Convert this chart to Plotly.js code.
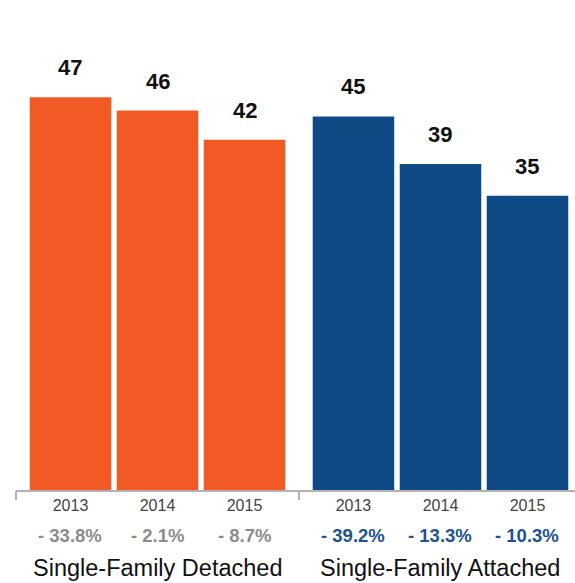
<!DOCTYPE html>
<html>
<head>
<meta charset="utf-8">
<script src="https://cdn.plot.ly/plotly-3.0.1.min.js"></script>
<style>html,body{margin:0;padding:0;background:#fff;}#chart{width:575px;height:583px;}</style>
</head>
<body>
<div id="chart"></div>
<script>
// ---- data ----
var years = ['2013', '2014', '2015'];
var groups = ['Single-Family Detached', 'Single-Family Attached'];
var detachedValues = [47.0, 45.4, 41.9];
var detachedLabels = ['47', '46', '42'];
var detachedChange = ['- 33.8%', '- 2.1%', '- 8.7%'];
var attachedValues = [44.7, 39.0, 35.2];
var attachedLabels = ['45', '39', '35'];
var attachedChange = ['- 39.2%', '- 13.3%', '- 10.3%'];

var ORANGE = '#f15a24', BLUE = '#0f4a87';
var FONT = 'Liberation Sans, Arial, Helvetica, sans-serif';
var AXIS = '#b3b3b3';

var traces = [
  {type:'bar', x:years, y:detachedValues, xaxis:'x', yaxis:'y', width:0.937,
   marker:{color:ORANGE, line:{width:0}}, hoverinfo:'none', showlegend:false},
  {type:'bar', x:years, y:attachedValues, xaxis:'x2', yaxis:'y', width:0.937,
   marker:{color:BLUE, line:{width:0}}, hoverinfo:'none', showlegend:false}
];

var annotations = [];
function addGroup(xref, vals, labels, changes, changeColor, title) {
  // category axes: annotation positions use category index
  for (var i = 0; i < years.length; i++) {
    annotations.push({xref:xref, yref:'y', x:i, y:vals[i], text:'<b>'+labels[i]+'</b>',
      showarrow:false, yanchor:'bottom', yshift:15, font:{family:FONT, size:22, color:'#111'}});
    annotations.push({xref:xref, yref:'paper', x:i, y:0, text:'<b>'+changes[i]+'</b>',
      showarrow:false, yanchor:'middle', yshift:-45, font:{family:FONT, size:18.5, color:changeColor}});
  }
  annotations.push({xref:xref, yref:'paper', x:1, y:0, text:title,
    showarrow:false, yanchor:'middle', yshift:-78, font:{family:FONT, size:23.5, color:'#111'}});
}
addGroup('x', detachedValues, detachedLabels, detachedChange, '#8c8c8c', groups[0]);
addGroup('x2', attachedValues, attachedLabels, attachedChange, '#1d5293', groups[1]);

var tickShape = function(xref) {
  return {type:'line', xref:xref, x0:0, x1:0, yref:'paper', ysizemode:'pixel', yanchor:0,
    y0:-1, y1:-10, line:{color:AXIS, width:2}};
};

var xCommon = {type:'category', showgrid:false, zeroline:false, showline:true, linecolor:AXIS, linewidth:2,
  ticks:'', tickfont:{family:FONT, size:16, color:'#444'}, fixedrange:true};

var layout = {
  width:575, height:583,
  margin:{l:0, r:0, t:22, b:93},
  paper_bgcolor:'#fff', plot_bgcolor:'#fff',
  barmode:'group',
  xaxis:Object.assign({}, xCommon, {domain:[16/575, 299/575], range:[-0.626, 2.626], anchor:'y'}),
  xaxis2:Object.assign({}, xCommon, {domain:[299/575, 1], range:[-0.626, 2.546], anchor:'y'}),
  yaxis:{range:[0, 56], showgrid:false, zeroline:false, showticklabels:false, showline:false, fixedrange:true},
  annotations:annotations,
  shapes:[tickShape('x domain'), tickShape('x2 domain')]
};

Plotly.newPlot('chart', traces, layout, {displayModeBar:false, staticPlot:true});
</script>
</body>
</html>
